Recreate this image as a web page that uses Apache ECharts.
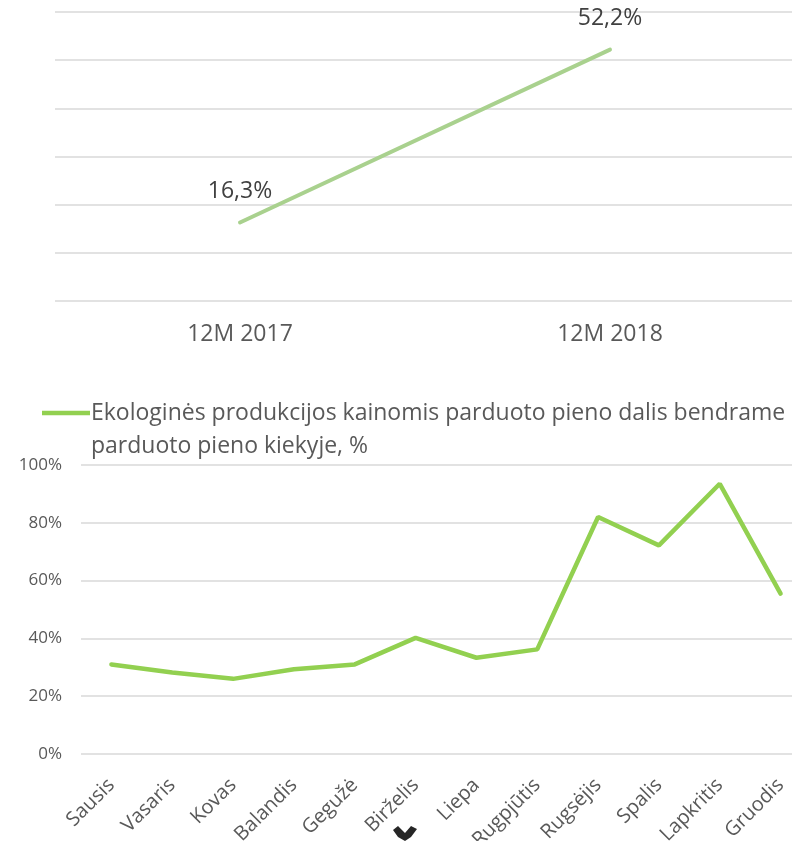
<!DOCTYPE html>
<html>
<head>
<meta charset="utf-8">
<script src="https://cdn.jsdelivr.net/npm/echarts@6/dist/echarts.min.js"></script>
<style>
  html, body { margin: 0; padding: 0; background: #fff; }
  #chart { width: 792px; height: 841px; }
</style>
</head>
<body>
<div id="chart"></div>
<script>
const yearCategories = ["12M 2017", "12M 2018"];
const yearValues = [16.3, 52.2];

const monthCategories = ["Sausis", "Vasaris", "Kovas", "Balandis", "Gegužė", "Birželis",
  "Liepa", "Rugpjūtis", "Rugsėjis", "Spalis", "Lapkritis", "Gruodis"];
const monthValues = [31, 28.2, 26, 29.3, 31, 40.2, 33.3, 36.2, 82, 72.2, 93.5, 55.5];
const monthTicks = [0, 20, 40, 60, 80, 100];

const legendLines = ["Ekologinės produkcijos kainomis parduoto pieno dalis bendrame", "parduoto pieno kiekyje, %"];

const font = "'Open Sans', sans-serif";
const gridColor = "#d9d9d9";

const chart = echarts.init(document.getElementById("chart"));

chart.setOption({
  animation: false,
  textStyle: { fontFamily: font },
  grid: [
    { left: 55, width: 740, top: 12, height: 289, outerBoundsMode: "none", containLabel: false },
    { left: 81, width: 730, top: 465, height: 289, outerBoundsMode: "none", containLabel: false },
  ],
  xAxis: [
    {
      gridIndex: 0,
      type: "category",
      data: yearCategories,
      axisLine: { show: false },
      axisTick: { show: false },
      axisLabel: { color: "#595959", fontSize: 23, margin: 22, fontFamily: font },
    },
    {
      gridIndex: 1,
      type: "category",
      data: monthCategories,
      axisLine: { show: false },
      axisTick: { show: false },
      axisLabel: { color: "#595959", fontSize: 20, rotate: 45, margin: 28, interval: 0, fontFamily: font },
    },
  ],
  yAxis: [
    {
      gridIndex: 0,
      type: "value",
      min: 0,
      max: 60,
      interval: 10,
      axisLabel: { show: false },
      axisLine: { show: false },
      axisTick: { show: false },
      splitLine: { lineStyle: { color: gridColor, width: 1.5 } },
    },
    {
      gridIndex: 1,
      type: "value",
      min: monthTicks[0],
      max: monthTicks[monthTicks.length - 1],
      interval: 20,
      axisLine: { show: false },
      axisTick: { show: false },
      axisLabel: { color: "#595959", fontSize: 17, margin: 19, formatter: "{value}%", fontFamily: font },
      splitLine: { lineStyle: { color: gridColor, width: 1.5 } },
    },
  ],
  series: [
    {
      type: "line",
      xAxisIndex: 0,
      yAxisIndex: 0,
      data: yearValues,
      symbol: "circle",
      symbolSize: 1,
      itemStyle: { color: "rgba(0,0,0,0)" },
      lineStyle: { color: "#a9d18e", width: 4, cap: "round" },
      label: {
        show: true,
        position: "top",
        distance: 19,
        color: "#404040",
        fontSize: 23,
        fontFamily: font,
        formatter: (p) => p.value.toFixed(1).replace(".", ",") + "%",
      },
    },
    {
      type: "line",
      xAxisIndex: 1,
      yAxisIndex: 1,
      data: monthValues,
      symbol: "none",
      lineStyle: { color: "#92d050", width: 4.5, cap: "round" },
    },
  ],
  graphic: [
    {
      type: "line",
      shape: { x1: 42, y1: 413, x2: 90, y2: 413 },
      style: { stroke: "#92d050", lineWidth: 4.5 },
    },
    {
      type: "text",
      x: 91,
      y: 397,
      style: {
        text: legendLines.join("\n"),
        fill: "#595959",
        font: "23px " + font,
        lineHeight: 33,
      },
    },
    {
      type: "polygon",
      shape: { points: [[393, 830], [398, 826], [405, 833], [411, 826], [417, 829], [411, 837], [405, 841], [398, 837]] },
      style: { fill: "#262626" },
    },
  ],
});
</script>
</body>
</html>
